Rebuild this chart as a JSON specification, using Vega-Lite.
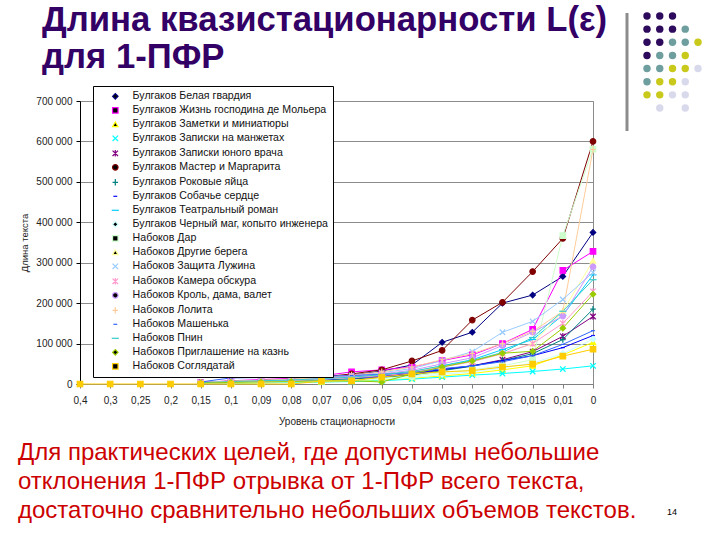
{
"$schema":"https://vega.github.io/schema/vega-lite/v6.json",
"width":513,"height":283,
"autosize":{"type":"none"},
"padding":{"left":80,"top":101,"right":127,"bottom":156},
"background":"white",
"title":{"text":["Длина квазистационарности L(ε)","для 1-ПФР"],"anchor":"start","frame":"group","dx":-38,"offset":-64,"baseline":"top","fontSize":34.7,"font":"Liberation Sans","fontWeight":"bold","color":"#330066","lineHeight":37},
"config":{"font":"Liberation Sans","view":{"stroke":"#8c8c8c"}},
"datasets":{
"names":[{"k":1,"s":"Булгаков Белая гвардия"},{"k":2,"s":"Булгаков Жизнь господина де Мольера"},{"k":3,"s":"Булгаков Заметки и миниатюры"},{"k":4,"s":"Булгаков Записки на манжетах"},{"k":5,"s":"Булгаков Записки юного врача"},{"k":6,"s":"Булгаков Мастер и Маргарита"},{"k":7,"s":"Булгаков Роковые яйца"},{"k":8,"s":"Булгаков Собачье сердце"},{"k":9,"s":"Булгаков Театральный роман"},{"k":10,"s":"Булгаков Черный маг, копыто инженера"},{"k":11,"s":"Набоков Дар"},{"k":12,"s":"Набоков Другие берега"},{"k":13,"s":"Набоков Защита Лужина"},{"k":14,"s":"Набоков Камера обскура"},{"k":15,"s":"Набоков Кроль, дама, валет"},{"k":16,"s":"Набоков Лолита"},{"k":17,"s":"Набоков Машенька"},{"k":18,"s":"Набоков Пнин"},{"k":19,"s":"Набоков Приглашение на казнь"},{"k":20,"s":"Набоков Соглядатай"}],
"pts":[
{"k":1,"e":"0,15","v":3000},{"k":1,"e":"0,1","v":6000},{"k":1,"e":"0,09","v":8000},{"k":1,"e":"0,08","v":10000},{"k":1,"e":"0,07","v":14000},{"k":1,"e":"0,06","v":22000},{"k":1,"e":"0,05","v":32000},{"k":1,"e":"0,04","v":47000},{"k":1,"e":"0,03","v":103000},{"k":1,"e":"0,025","v":128000},{"k":1,"e":"0,02","v":200000},{"k":1,"e":"0,015","v":220000},{"k":1,"e":"0,01","v":266000},{"k":1,"e":"0","v":375000},
{"k":2,"e":"0,15","v":4000},{"k":2,"e":"0,1","v":8000},{"k":2,"e":"0,09","v":11000},{"k":2,"e":"0,08","v":14000},{"k":2,"e":"0,07","v":20000},{"k":2,"e":"0,06","v":30000},{"k":2,"e":"0,05","v":35000},{"k":2,"e":"0,04","v":42000},{"k":2,"e":"0,03","v":58000},{"k":2,"e":"0,025","v":72000},{"k":2,"e":"0,02","v":100000},{"k":2,"e":"0,015","v":135000},{"k":2,"e":"0,01","v":281000},{"k":2,"e":"0","v":328000},
{"k":3,"e":"0,15","v":1000},{"k":3,"e":"0,1","v":2000},{"k":3,"e":"0,09","v":3000},{"k":3,"e":"0,08","v":4000},{"k":3,"e":"0,07","v":5000},{"k":3,"e":"0,06","v":7000},{"k":3,"e":"0,05","v":10000},{"k":3,"e":"0,04","v":14000},{"k":3,"e":"0,03","v":20000},{"k":3,"e":"0,025","v":26000},{"k":3,"e":"0,02","v":35000},{"k":3,"e":"0,015","v":45000},{"k":3,"e":"0,01","v":72000},{"k":3,"e":"0","v":103000},
{"k":4,"e":"0,15","v":1000},{"k":4,"e":"0,1","v":2000},{"k":4,"e":"0,09","v":3000},{"k":4,"e":"0,08","v":4000},{"k":4,"e":"0,07","v":5000},{"k":4,"e":"0,06","v":6000},{"k":4,"e":"0,05","v":8000},{"k":4,"e":"0,04","v":12000},{"k":4,"e":"0,03","v":17000},{"k":4,"e":"0,025","v":22000},{"k":4,"e":"0,02","v":26000},{"k":4,"e":"0,015","v":31000},{"k":4,"e":"0,01","v":37000},{"k":4,"e":"0","v":45000},
{"k":5,"e":"0,15","v":2000},{"k":5,"e":"0,1","v":4000},{"k":5,"e":"0,09","v":5000},{"k":5,"e":"0,08","v":7000},{"k":5,"e":"0,07","v":9000},{"k":5,"e":"0,06","v":12000},{"k":5,"e":"0,05","v":17000},{"k":5,"e":"0,04","v":24000},{"k":5,"e":"0,03","v":35000},{"k":5,"e":"0,025","v":45000},{"k":5,"e":"0,02","v":60000},{"k":5,"e":"0,015","v":80000},{"k":5,"e":"0,01","v":118000},{"k":5,"e":"0","v":167000},
{"k":6,"e":"0,15","v":4000},{"k":6,"e":"0,1","v":7000},{"k":6,"e":"0,09","v":9000},{"k":6,"e":"0,08","v":12000},{"k":6,"e":"0,07","v":17000},{"k":6,"e":"0,06","v":25000},{"k":6,"e":"0,05","v":35000},{"k":6,"e":"0,04","v":57000},{"k":6,"e":"0,03","v":83000},{"k":6,"e":"0,025","v":158000},{"k":6,"e":"0,02","v":202000},{"k":6,"e":"0,015","v":278000},{"k":6,"e":"0,01","v":360000},{"k":6,"e":"0","v":600000},
{"k":7,"e":"0,15","v":2000},{"k":7,"e":"0,1","v":4000},{"k":7,"e":"0,09","v":5000},{"k":7,"e":"0,08","v":7000},{"k":7,"e":"0,07","v":9000},{"k":7,"e":"0,06","v":12000},{"k":7,"e":"0,05","v":16000},{"k":7,"e":"0,04","v":22000},{"k":7,"e":"0,03","v":33000},{"k":7,"e":"0,025","v":44000},{"k":7,"e":"0,02","v":58000},{"k":7,"e":"0,015","v":75000},{"k":7,"e":"0,01","v":110000},{"k":7,"e":"0","v":185000},
{"k":8,"e":"0,15","v":3000},{"k":8,"e":"0,1","v":5000},{"k":8,"e":"0,09","v":6000},{"k":8,"e":"0,08","v":8000},{"k":8,"e":"0,07","v":11000},{"k":8,"e":"0,06","v":15000},{"k":8,"e":"0,05","v":20000},{"k":8,"e":"0,04","v":26000},{"k":8,"e":"0,03","v":36000},{"k":8,"e":"0,025","v":45000},{"k":8,"e":"0,02","v":58000},{"k":8,"e":"0,015","v":70000},{"k":8,"e":"0,01","v":90000},{"k":8,"e":"0","v":120000},
{"k":9,"e":"0,15","v":3000},{"k":9,"e":"0,1","v":6000},{"k":9,"e":"0,09","v":7000},{"k":9,"e":"0,08","v":9000},{"k":9,"e":"0,07","v":12000},{"k":9,"e":"0,06","v":16000},{"k":9,"e":"0,05","v":22000},{"k":9,"e":"0,04","v":30000},{"k":9,"e":"0,03","v":45000},{"k":9,"e":"0,025","v":60000},{"k":9,"e":"0,02","v":85000},{"k":9,"e":"0,015","v":110000},{"k":9,"e":"0,01","v":170000},{"k":9,"e":"0","v":270000},
{"k":10,"e":"0,15","v":1000},{"k":10,"e":"0,1","v":3000},{"k":10,"e":"0,09","v":4000},{"k":10,"e":"0,08","v":5000},{"k":10,"e":"0,07","v":7000},{"k":10,"e":"0,06","v":9000},{"k":10,"e":"0,05","v":12000},{"k":10,"e":"0,04","v":16000},{"k":10,"e":"0,03","v":24000},{"k":10,"e":"0,025","v":30000},{"k":10,"e":"0,02","v":40000},{"k":10,"e":"0,015","v":52000},{"k":10,"e":"0,01","v":75000},{"k":10,"e":"0","v":111000},
{"k":11,"e":"0,15","v":2000},{"k":11,"e":"0,1","v":4000},{"k":11,"e":"0,09","v":5000},{"k":11,"e":"0,08","v":6000},{"k":11,"e":"0,07","v":8000},{"k":11,"e":"0,06","v":10000},{"k":11,"e":"0,05","v":14000},{"k":11,"e":"0,04","v":20000},{"k":11,"e":"0,03","v":28000},{"k":11,"e":"0,025","v":35000},{"k":11,"e":"0,02","v":45000},{"k":11,"e":"0,015","v":60000},{"k":11,"e":"0,01","v":367000},{"k":11,"e":"0","v":581000},
{"k":12,"e":"0,15","v":3000},{"k":12,"e":"0,1","v":5000},{"k":12,"e":"0,09","v":7000},{"k":12,"e":"0,08","v":9000},{"k":12,"e":"0,07","v":12000},{"k":12,"e":"0,06","v":16000},{"k":12,"e":"0,05","v":22000},{"k":12,"e":"0,04","v":30000},{"k":12,"e":"0,03","v":44000},{"k":12,"e":"0,025","v":56000},{"k":12,"e":"0,02","v":75000},{"k":12,"e":"0,015","v":100000},{"k":12,"e":"0,01","v":180000},{"k":12,"e":"0","v":305000},
{"k":13,"e":"0,15","v":4000},{"k":13,"e":"0,1","v":7000},{"k":13,"e":"0,09","v":9000},{"k":13,"e":"0,08","v":12000},{"k":13,"e":"0,07","v":16000},{"k":13,"e":"0,06","v":21000},{"k":13,"e":"0,05","v":28000},{"k":13,"e":"0,04","v":38000},{"k":13,"e":"0,03","v":58000},{"k":13,"e":"0,025","v":80000},{"k":13,"e":"0,02","v":128000},{"k":13,"e":"0,015","v":155000},{"k":13,"e":"0,01","v":209000},{"k":13,"e":"0","v":276000},
{"k":14,"e":"0,15","v":3000},{"k":14,"e":"0,1","v":5000},{"k":14,"e":"0,09","v":7000},{"k":14,"e":"0,08","v":9000},{"k":14,"e":"0,07","v":12000},{"k":14,"e":"0,06","v":16000},{"k":14,"e":"0,05","v":21000},{"k":14,"e":"0,04","v":28000},{"k":14,"e":"0,03","v":42000},{"k":14,"e":"0,025","v":55000},{"k":14,"e":"0,02","v":75000},{"k":14,"e":"0,015","v":100000},{"k":14,"e":"0,01","v":150000},{"k":14,"e":"0","v":229000},
{"k":15,"e":"0,15","v":3000},{"k":15,"e":"0,1","v":6000},{"k":15,"e":"0,09","v":8000},{"k":15,"e":"0,08","v":10000},{"k":15,"e":"0,07","v":14000},{"k":15,"e":"0,06","v":19000},{"k":15,"e":"0,05","v":25000},{"k":15,"e":"0,04","v":34000},{"k":15,"e":"0,03","v":50000},{"k":15,"e":"0,025","v":65000},{"k":15,"e":"0,02","v":95000},{"k":15,"e":"0,015","v":128000},{"k":15,"e":"0,01","v":168000},{"k":15,"e":"0","v":290000},
{"k":16,"e":"0,15","v":4000},{"k":16,"e":"0,1","v":7000},{"k":16,"e":"0,09","v":9000},{"k":16,"e":"0,08","v":12000},{"k":16,"e":"0,07","v":16000},{"k":16,"e":"0,06","v":22000},{"k":16,"e":"0,05","v":30000},{"k":16,"e":"0,04","v":42000},{"k":16,"e":"0,03","v":60000},{"k":16,"e":"0,025","v":75000},{"k":16,"e":"0,02","v":100000},{"k":16,"e":"0,015","v":130000},{"k":16,"e":"0,01","v":180000},{"k":16,"e":"0","v":580000},
{"k":17,"e":"0,15","v":5000},{"k":17,"e":"0,1","v":15000},{"k":17,"e":"0,09","v":16000},{"k":17,"e":"0,08","v":17000},{"k":17,"e":"0,07","v":19000},{"k":17,"e":"0,06","v":21000},{"k":17,"e":"0,05","v":24000},{"k":17,"e":"0,04","v":28000},{"k":17,"e":"0,03","v":38000},{"k":17,"e":"0,025","v":45000},{"k":17,"e":"0,02","v":55000},{"k":17,"e":"0,015","v":70000},{"k":17,"e":"0,01","v":98000},{"k":17,"e":"0","v":132000},
{"k":18,"e":"0,15","v":3000},{"k":18,"e":"0,1","v":6000},{"k":18,"e":"0,09","v":8000},{"k":18,"e":"0,08","v":10000},{"k":18,"e":"0,07","v":13000},{"k":18,"e":"0,06","v":17000},{"k":18,"e":"0,05","v":23000},{"k":18,"e":"0,04","v":31000},{"k":18,"e":"0,03","v":45000},{"k":18,"e":"0,025","v":58000},{"k":18,"e":"0,02","v":78000},{"k":18,"e":"0,015","v":115000},{"k":18,"e":"0,01","v":180000},{"k":18,"e":"0","v":258000},
{"k":19,"e":"0,15","v":2000},{"k":19,"e":"0,1","v":4000},{"k":19,"e":"0,09","v":5000},{"k":19,"e":"0,08","v":6000},{"k":19,"e":"0,07","v":8000},{"k":19,"e":"0,06","v":8000},{"k":19,"e":"0,05","v":5000},{"k":19,"e":"0,04","v":25000},{"k":19,"e":"0,03","v":42000},{"k":19,"e":"0,025","v":57000},{"k":19,"e":"0,02","v":76000},{"k":19,"e":"0,015","v":81000},{"k":19,"e":"0,01","v":138000},{"k":19,"e":"0","v":222000},
{"k":20,"e":"0,4","v":0},{"k":20,"e":"0,3","v":0},{"k":20,"e":"0,25","v":0},{"k":20,"e":"0,2","v":0},{"k":20,"e":"0,15","v":0},{"k":20,"e":"0,1","v":0},{"k":20,"e":"0,09","v":0},{"k":20,"e":"0,08","v":0},{"k":20,"e":"0,07","v":7000},{"k":20,"e":"0,06","v":8000},{"k":20,"e":"0,05","v":17000},{"k":20,"e":"0,04","v":25000},{"k":20,"e":"0,03","v":30000},{"k":20,"e":"0,025","v":33000},{"k":20,"e":"0,02","v":42000},{"k":20,"e":"0,015","v":49000},{"k":20,"e":"0,01","v":69000},{"k":20,"e":"0","v":86000}
]},
"layer":[
{
"data":{"name":"pts"},
"transform":[{"lookup":"k","from":{"data":{"name":"names"},"key":"k","fields":["s"]}}],
"encoding":{
"x":{"field":"e","type":"ordinal","scale":{"type":"point","padding":0,"domain":["0,4","0,3","0,25","0,2","0,15","0,1","0,09","0,08","0,07","0,06","0,05","0,04","0,03","0,025","0,02","0,015","0,01","0"]},
"axis":{"title":"Уровень стационарности","labelAngle":0,"labelFontSize":10,"labelColor":"#222","labelPadding":7,"tickSize":4,"tickColor":"#808080","domainColor":"#808080","grid":false,"titleFontSize":10,"titleFontWeight":"normal","titleColor":"#222","titlePadding":11}},
"y":{"field":"v","type":"quantitative","scale":{"domain":[0,700000],"nice":false,"zero":true},
"axis":{"title":"Длина текста","values":[0,100000,200000,300000,400000,500000,600000,700000],"labelExpr":"replace(format(datum.value, ','), ',', ' ')","labelFontSize":10,"labelColor":"#222","labelPadding":4,"tickSize":4,"tickColor":"#000","domainColor":"#000","grid":true,"gridColor":"#8c8c8c","titleFontSize":9.5,"titleFontWeight":"normal","titleColor":"#222","titlePadding":6}}
},
"layer":[
{"mark":{"type":"line","strokeWidth":1},
"encoding":{"color":{"field":"s","type":"nominal","scale":{"domain":["Булгаков Белая гвардия","Булгаков Жизнь господина де Мольера","Булгаков Заметки и миниатюры","Булгаков Записки на манжетах","Булгаков Записки юного врача","Булгаков Мастер и Маргарита","Булгаков Роковые яйца","Булгаков Собачье сердце","Булгаков Театральный роман","Булгаков Черный маг, копыто инженера","Набоков Дар","Набоков Другие берега","Набоков Защита Лужина","Набоков Камера обскура","Набоков Кроль, дама, валет","Набоков Лолита","Набоков Машенька","Набоков Пнин","Набоков Приглашение на казнь","Набоков Соглядатай"],"range":["#000080","#FF00FF","#FFFF00","#00FFFF","#800080","#800000","#008080","#0000FF","#00CCFF","#CCFFFF","#CCFFCC","#FFFF99","#99CCFF","#FF99CC","#CC99FF","#FFCC99","#3366FF","#33CCCC","#99CC00","#FFCC00"]},
"legend":null}}},
{"mark":{"type":"point","filled":true,"size":30,"strokeWidth":1.2,"opacity":1},
"encoding":{
"color":{"field":"s","type":"nominal","legend":{"title":null,"orient":"none","legendX":13,"legendY":-15,"fillColor":"white","strokeColor":"#000","padding":5,"labelFontSize":10.6,"labelColor":"#111","labelLimit":300,"rowPadding":3.0,"symbolSize":30,"symbolStrokeWidth":1.2,"symbolOffset":12,"labelOffset":12}},
"stroke":{"field":"s","type":"nominal","scale":{"domain":["Булгаков Белая гвардия","Булгаков Жизнь господина де Мольера","Булгаков Заметки и миниатюры","Булгаков Записки на манжетах","Булгаков Записки юного врача","Булгаков Мастер и Маргарита","Булгаков Роковые яйца","Булгаков Собачье сердце","Булгаков Театральный роман","Булгаков Черный маг, копыто инженера","Набоков Дар","Набоков Другие берега","Набоков Защита Лужина","Набоков Камера обскура","Набоков Кроль, дама, валет","Набоков Лолита","Набоков Машенька","Набоков Пнин","Набоков Приглашение на казнь","Набоков Соглядатай"],"range":["#000080","#FF00FF","#FFFF00","#00FFFF","#800080","#800000","#008080","#0000FF","#00CCFF","#CCFFFF","#CCFFCC","#FFFF99","#99CCFF","#FF99CC","#CC99FF","#FFCC99","#3366FF","#33CCCC","#99CC00","#FFCC00"]},"legend":{"title":null,"orient":"none","legendX":13,"legendY":-15,"fillColor":"white","strokeColor":"#000","padding":5,"labelFontSize":10.6,"labelColor":"#111","labelLimit":300,"rowPadding":3.0,"symbolSize":30,"symbolStrokeWidth":1.2,"symbolOffset":12,"labelOffset":12}},
"shape":{"field":"s","type":"nominal","scale":{"domain":["Булгаков Белая гвардия","Булгаков Жизнь господина де Мольера","Булгаков Заметки и миниатюры","Булгаков Записки на манжетах","Булгаков Записки юного врача","Булгаков Мастер и Маргарита","Булгаков Роковые яйца","Булгаков Собачье сердце","Булгаков Театральный роман","Булгаков Черный маг, копыто инженера","Набоков Дар","Набоков Другие берега","Набоков Защита Лужина","Набоков Камера обскура","Набоков Кроль, дама, валет","Набоков Лолита","Набоков Машенька","Набоков Пнин","Набоков Приглашение на казнь","Набоков Соглядатай"],"range":["diamond","square","triangle-up","M-1,-1L1,1M-1,1L1,-1","M-1,-1L1,1M-1,1L1,-1M0,-1.2L0,1.2","circle","M0,-1.2L0,1.2M-1,0L1,0","M-0.7,0L0.7,0","M-1.3,0L1.3,0","diamond","square","triangle-up","M-1,-1L1,1M-1,1L1,-1","M-1,-1L1,1M-1,1L1,-1M0,-1.2L0,1.2","circle","M0,-1.2L0,1.2M-1,0L1,0","M-0.7,0L0.7,0","M-1.3,0L1.3,0","diamond","square"]},"legend":{"title":null,"orient":"none","legendX":13,"legendY":-15,"fillColor":"white","strokeColor":"#000","padding":5,"labelFontSize":10.6,"labelColor":"#111","labelLimit":300,"rowPadding":3.0,"symbolSize":30,"symbolStrokeWidth":1.2,"symbolOffset":12,"labelOffset":12}}
}}
]
},
{
"data":{"values":[{"r":1,"c":1,"t":"a"},{"r":1,"c":2,"t":"a"},{"r":1,"c":3,"t":"a"},{"r":2,"c":1,"t":"a"},{"r":2,"c":2,"t":"a"},{"r":2,"c":3,"t":"a"},{"r":2,"c":4,"t":"b"},{"r":3,"c":1,"t":"a"},{"r":3,"c":2,"t":"a"},{"r":3,"c":3,"t":"b"},{"r":3,"c":4,"t":"b"},{"r":3,"c":5,"t":"c"},{"r":4,"c":1,"t":"a"},{"r":4,"c":2,"t":"b"},{"r":4,"c":3,"t":"b"},{"r":4,"c":4,"t":"c"},{"r":5,"c":1,"t":"b"},{"r":5,"c":2,"t":"b"},{"r":5,"c":3,"t":"c"},{"r":5,"c":4,"t":"c"},{"r":5,"c":5,"t":"d"},{"r":6,"c":1,"t":"b"},{"r":6,"c":2,"t":"c"},{"r":6,"c":3,"t":"c"},{"r":6,"c":4,"t":"d"},{"r":7,"c":1,"t":"c"},{"r":7,"c":2,"t":"c"},{"r":7,"c":3,"t":"d"},{"r":7,"c":4,"t":"d"},{"r":8,"c":2,"t":"d"},{"r":8,"c":4,"t":"d"}]},
"mark":{"type":"circle","size":55,"opacity":1},
"encoding":{
"x":{"field":"c","type":"quantitative","scale":{"domain":[1,5],"range":[567,618],"nice":false,"zero":false},"axis":null},
"y":{"field":"r","type":"quantitative","scale":{"domain":[1,8],"range":[-85,7],"nice":false,"zero":false},"axis":null},
"color":{"field":"t","type":"nominal","scale":{"domain":["a","b","c","d"],"range":["#2e0a5c","#6f9e9e","#c9c91c","#d9d9ec"]},"legend":null}
}
},
{
"data":{"values":[{}]},
"mark":{"type":"rule","color":"#8c8c8c","strokeWidth":3},
"encoding":{"x":{"value":547},"y":{"value":-88},"y2":{"value":30}}
},
{
"data":{"values":[{}]},
"mark":{"type":"text","text":["Для практических целей, где допустимы небольшие","отклонения 1-ПФР отрывка от 1-ПФР всего текста,","достаточно сравнительно небольших объемов текстов."],"align":"left","baseline":"alphabetic","lineHeight":29,"fontSize":24,"font":"Liberation Sans","color":"#cc0000","x":-62,"y":359},
"encoding":{}
},
{
"data":{"values":[{}]},
"mark":{"type":"text","text":"14","align":"left","baseline":"middle","fontSize":9,"font":"Liberation Sans","color":"#000","x":587,"y":411},
"encoding":{}
}
],
"resolve":{"scale":{"x":"independent","y":"independent","color":"independent"}}
}
